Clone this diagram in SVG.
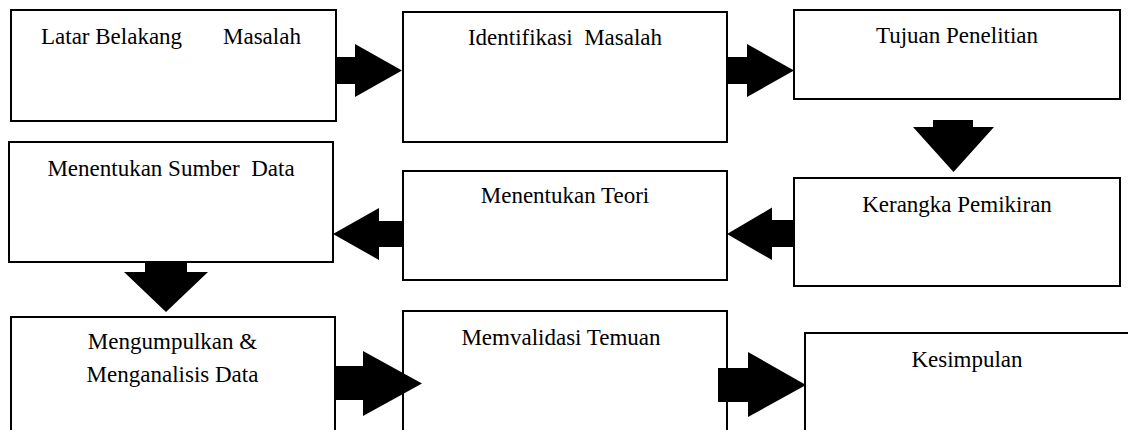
<svg xmlns="http://www.w3.org/2000/svg" width="1128" height="430" viewBox="0 0 1128 430">
<style>
.box{fill:#fff;stroke:#000;stroke-width:2}
.lbl{font-family:"Liberation Serif","Times New Roman",serif;font-size:23px;fill:#000}
.mid{text-anchor:middle}
.arr{fill:#000;stroke:none}
</style>
<rect x="0" y="0" width="1128" height="430" fill="#fff"/>
<g id="latar-belakang">
<rect class="box" x="11" y="10" width="325" height="111"/>
<text class="lbl" x="41" y="44">Latar Belakang <tspan x="223">Masalah</tspan></text>
</g>
<g id="identifikasi">
<rect class="box" x="403" y="12" width="324" height="130"/>
<text class="lbl mid" x="565" y="45" xml:space="preserve">Identifikasi  Masalah</text>
</g>
<g id="tujuan">
<rect class="box" x="794" y="10" width="326" height="89"/>
<text class="lbl mid" x="957" y="43">Tujuan Penelitian</text>
</g>
<g id="kerangka">
<rect class="box" x="794" y="178" width="326" height="108"/>
<text class="lbl mid" x="957" y="212">Kerangka Pemikiran</text>
</g>
<g id="teori">
<rect class="box" x="403" y="171" width="324" height="109"/>
<text class="lbl mid" x="565" y="203">Menentukan Teori</text>
</g>
<g id="sumber-data">
<rect class="box" x="9" y="142" width="324" height="120"/>
<text class="lbl mid" x="171" y="176" xml:space="preserve">Menentukan Sumber  Data</text>
</g>
<g id="mengumpulkan">
<rect class="box" x="11" y="317" width="324" height="120"/>
<text class="lbl mid" x="172.5" y="349">Mengumpulkan &amp;</text>
<text class="lbl mid" x="172.5" y="382">Menganalisis Data</text>
</g>
<g id="memvalidasi">
<rect class="box" x="403" y="311" width="324" height="130"/>
<text class="lbl mid" x="561" y="345">Memvalidasi Temuan</text>
</g>
<g id="kesimpulan">
<rect class="box" x="805" y="333" width="330" height="110"/>
<text class="lbl mid" x="967" y="367">Kesimpulan</text>
</g>
<g id="connectors">
<polygon class="arr" points="336,57 355,57 355,44 402,70.5 355,97 355,84 336,84"/>
<polygon class="arr" points="727,57 747,57 747,44 794,70.5 747,97 747,84 727,84"/>
<polygon class="arr" points="933,120 973,120 973,127 994,127 953.5,172 913,127 933,127"/>
<polygon class="arr" points="794,220 772,220 772,207.5 727,234 772,260 772,247 794,247"/>
<polygon class="arr" points="403,221 379,221 379,208 333,234 379,260 379,247 403,247"/>
<polygon class="arr" points="145,263 187,263 187,272 208,272 166,312 124,272 145,272"/>
<polygon class="arr" points="335,366 363,366 363,351 422,383.5 363,416 363,400 335,400"/>
<polygon class="arr" points="718,368 748,368 748,352 806,385 748,417 748,402 718,402"/>
</g>
</svg>
